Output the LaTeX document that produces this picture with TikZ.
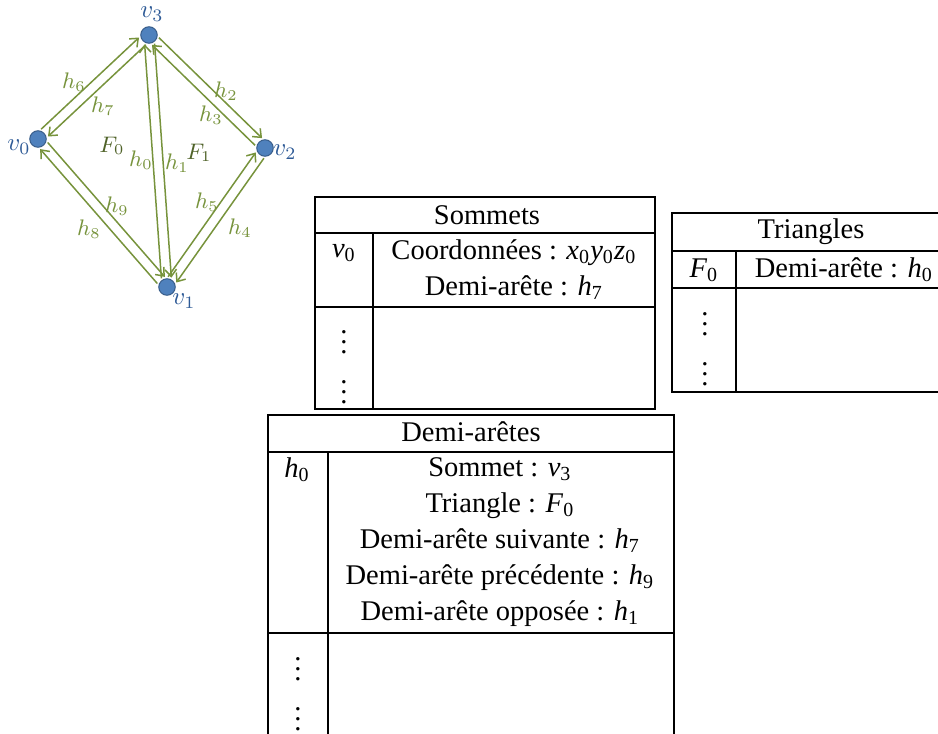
\documentclass[tikz,border=0pt]{standalone}
\usepackage{fontspec}
\setmainfont{Liberation Serif}
\usetikzlibrary{calc,arrows.meta}
\definecolor{vblue}{HTML}{4F81BD}
\definecolor{vdark}{HTML}{385D8A}
\definecolor{vtext}{HTML}{2E5A96}
\definecolor{hgreen}{HTML}{77933C}
\definecolor{fgreen}{HTML}{4F6228}
\newcommand{\isub}[2]{\textit{#1}\textsubscript{#2}}
\tikzset{
  vertex/.style={circle,fill=vblue,draw=vdark,line width=0.4pt,minimum size=6.6pt,inner sep=0pt},
  vlabel/.style={text=vtext,font=\fontsize{10}{12}\selectfont,inner sep=0pt},
  hlabel/.style={text=hgreen,font=\fontsize{9.2}{11}\selectfont,inner sep=0pt},
  flabel/.style={text=fgreen,font=\fontsize{9.2}{11}\selectfont,inner sep=0pt},
  half/.style={-{Straight Barb[length=2.8pt,width=4.6pt]},draw=hgreen,line width=0.6pt,
    shorten >=3.6pt,shorten <=3.6pt,
    to path={($(\tikztostart)!2pt!90:(\tikztotarget)$) -- ($(\tikztotarget)!2pt!-90:(\tikztostart)$) \tikztonodes}},
  cell/.style={font=\fontsize{11.4}{14.4}\selectfont,align=center,inner sep=0pt},
  dots/.style={font=\fontsize{11.4}{20}\selectfont,align=center,inner sep=0pt},
  grid/.style={line width=0.5pt,draw=black}
}
\begin{document}
\begin{tikzpicture}[x=0.4pt,y=-0.4pt]
      \useasboundingbox (0,0) rectangle (938,733);
      \path
        (38,139) node[vertex] (v0){}
        (167,287) node[vertex] (v1){}
        (265,148) node[vertex] (v2){}
        (149,35) node[vertex] (v3){};
      \path
        (19,147) node[vlabel] (lv0){$v_0$}
        (184,301) node[vlabel] (lv1){$v_1$}
        (285,152) node[vlabel] (lv2){$v_2$}
        (152,14) node[vlabel] (lv3){$v_3$};
      \begin{scope}[half]
        \draw (v1) to (v3);
        \draw (v3) to (v1);
        \draw (v3) to (v2);
        \draw (v2) to (v3);
        \draw (v2) to (v1);
        \draw (v1) to (v2);
        \draw (v0) to (v3);
        \draw (v3) to (v0);
        \draw (v1) to (v0);
        \draw (v0) to (v1);
      \end{scope}
      \path
        (141,160) node[hlabel] (lh0){$h_0$}
        (177,163) node[hlabel] (lh1){$h_1$}
        (226,91) node[hlabel] (lh2){$h_2$}
        (211,115) node[hlabel] (lh3){$h_3$}
        (240,228) node[hlabel] (lh4){$h_4$}
        (207,202) node[hlabel] (lh5){$h_5$}
        (74,82) node[hlabel] (lh6){$h_6$}
        (103,106) node[hlabel] (lh7){$h_7$}
        (89,229) node[hlabel] (lh8){$h_8$}
        (117,206) node[hlabel] (lh9){$h_9$}
        (112,146) node[flabel] (lf0){$F_0$}
        (199,153) node[flabel] (lf1){$F_1$};
      % Sommets
      \draw[grid] (315,197) rectangle (655,409);
      \draw[grid] (315,233) -- (655,233) (315,307) -- (655,307) (373,233) -- (373,409);
      \node[cell] (sHead) at (487,215) {Sommets};
      \node[cell] (sKey) at (344,253) {\isub{v}{0}};
      \node[cell] (sVal) at (514,270) {Coordonnées : \isub{x}{0}\isub{y}{0}\isub{z}{0}\\Demi-arête : \isub{h}{7}};
      \node[dots] (sDots) at (344,360) {$\vdots$\\$\vdots$};
      % Triangles
      \draw[grid] (672,213) rectangle (960,392);
      \draw[grid] (672,251) -- (960,251) (672,288) -- (960,288) (736,251) -- (736,392);
      \node[cell] (tHead) at (811,232) {Triangles};
      \node[cell] (tKey) at (704,270) {\isub{F}{0}};
      \node[cell] (tVal) at (844,270) {Demi-arête : \isub{h}{0}};
      \node[dots] (tDots) at (705,342) {$\vdots$\\$\vdots$};
      % Demi-aretes
      \draw[grid] (268,415) rectangle (674,760);
      \draw[grid] (268,452) -- (674,452) (268,633) -- (674,633) (328,452) -- (328,760);
      \node[cell] (dHead) at (471,432) {Demi-arêtes};
      \node[cell] (dKey) at (297,470) {\isub{h}{0}};
      \node[cell] (dVal) at (500,542) {Sommet : \isub{v}{3}\\Triangle : \isub{F}{0}\\Demi-arête suivante : \isub{h}{7}\\Demi-arête précédente : \isub{h}{9}\\Demi-arête opposée : \isub{h}{1}};
      \node[dots] (dDots) at (298,687) {$\vdots$\\$\vdots$};
    \end{tikzpicture}
\end{document}
